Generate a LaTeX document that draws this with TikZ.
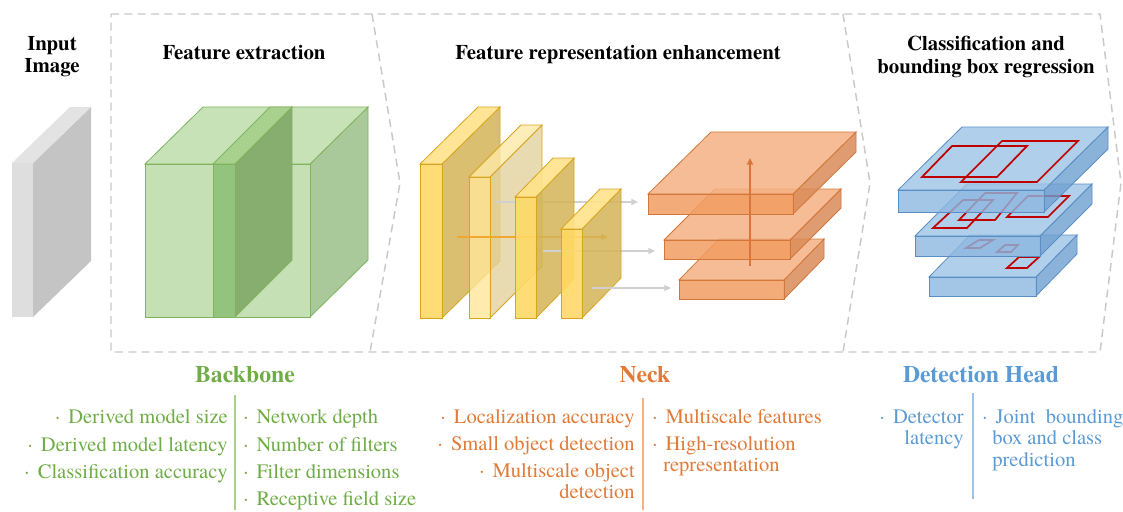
\documentclass[tikz,border=0pt]{standalone}
\usepackage{fontspec}
\setmainfont{texgyretermes-regular.otf}[BoldFont=texgyretermes-bold.otf, ItalicFont=texgyretermes-italic.otf, BoldItalicFont=texgyretermes-bolditalic.otf]
\usetikzlibrary{arrows.meta}
\definecolor{grn}{HTML}{70AD47}
\definecolor{grnl}{HTML}{A9D18E}
\definecolor{org}{HTML}{E07B39}
\definecolor{orgl}{HTML}{F4B183}
\definecolor{blu}{HTML}{5B9BD5}
\definecolor{blul}{HTML}{9DC3E6}
\definecolor{dashc}{HTML}{C9C9C9}
\definecolor{gcF}{HTML}{C5E0B4}
\definecolor{gcT}{HTML}{C8E2B8}
\definecolor{gcS}{HTML}{A9C99A}
\definecolor{gE}{HTML}{7FB35E}
\definecolor{gsF}{HTML}{93C47D}
\definecolor{gsT}{HTML}{A9D18E}
\definecolor{gsS}{HTML}{87AE6E}
\definecolor{yF}{HTML}{FFD966}
\definecolor{yT}{HTML}{FFE38A}
\definecolor{yS}{HTML}{D3B456}
\definecolor{yE}{HTML}{D9A520}
\definecolor{ylF}{HTML}{FFE699}
\definecolor{ylT}{HTML}{FDE9A8}
\definecolor{ylS}{HTML}{E3D39E}
\definecolor{oF}{HTML}{F29D62}
\definecolor{oT}{HTML}{F4B183}
\definecolor{oS}{HTML}{D98B57}
\definecolor{oE}{HTML}{D2773A}
\definecolor{bF}{HTML}{8DB8E2}
\definecolor{bT}{HTML}{9DC3E6}
\definecolor{bS}{HTML}{6E9FD0}
\definecolor{bE}{HTML}{5A8EC4}
\definecolor{redc}{HTML}{C00000}
\definecolor{arrg}{HTML}{D0D0D0}
\definecolor{arry}{HTML}{F0A830}
\definecolor{arro}{HTML}{D9773A}
\newcommand\cuboid[7]{%
  \path[#7side] (#3,#2) -- ({#3+#5},{#2-#6}) -- ({#3+#5},{#4-#6}) -- (#3,#4) -- cycle;
  \path[#7top] (#1,#2) -- (#3,#2) -- ({#3+#5},{#2-#6}) -- ({#1+#5},{#2-#6}) -- cycle;
  \path[#7front] (#1,#2) rectangle (#3,#4);
}
\tikzset{
  gyfront/.style={fill=black!13},
  gytop/.style={fill=black!11},
  gyside/.style={fill=black!23},
  gcfront/.style={fill=gcF, draw=gE, line width=0.6pt},
  gctop/.style={fill=gcT, draw=gE, line width=0.6pt},
  gcside/.style={fill=gcS, draw=gE, line width=0.6pt},
  gsfront/.style={fill=gsF, draw=gE, line width=0.6pt},
  gstop/.style={fill=gsT, draw=gE, line width=0.6pt},
  gsside/.style={fill=gsS, draw=gE, line width=0.6pt},
  yfront/.style={fill=yF, fill opacity=0.9, draw=yE, line width=0.6pt},
  ytop/.style={fill=yT, fill opacity=0.9, draw=yE, line width=0.6pt},
  yside/.style={fill=yS, fill opacity=0.85, draw=yE, line width=0.6pt},
  ylfront/.style={fill=ylF, fill opacity=0.8, draw=yE, line width=0.6pt},
  yltop/.style={fill=ylT, fill opacity=0.8, draw=yE, line width=0.6pt},
  ylside/.style={fill=ylS, fill opacity=0.8, draw=yE, line width=0.6pt},
  ofront/.style={fill=oF, fill opacity=0.85, draw=oE, line width=0.6pt},
  otop/.style={fill=oT, fill opacity=0.85, draw=oE, line width=0.6pt},
  oside/.style={fill=oS, fill opacity=0.85, draw=oE, line width=0.6pt},
  bfront/.style={fill=bF, fill opacity=0.8, draw=bE, line width=0.6pt},
  btop/.style={fill=bT, fill opacity=0.8, draw=bE, line width=0.6pt},
  bside/.style={fill=bS, fill opacity=0.8, draw=bE, line width=0.6pt},
  redbox/.style={draw=redc, line width=1.3pt, line join=miter},
  grayarr/.style={draw=arrg, line width=1.5pt, -{Triangle[length=5pt,width=4.5pt]}},
  yarr/.style={draw=arry, line width=1.5pt, -{Triangle[length=5pt,width=4.5pt]}},
  oarr/.style={draw=arro, line width=1.2pt, -{Triangle[length=5pt,width=4.5pt]}},
  dashline/.style={draw=dashc, line width=1.1pt, dash pattern=on 6pt off 4pt},
  ttl/.style={font=\fontsize{15.6}{18}\selectfont\bfseries, inner sep=0pt, anchor=base},
  hd/.style={font=\fontsize{17.8}{20}\selectfont\bfseries, inner sep=0pt, anchor=base},
  li/.style={font=\fontsize{15.4}{18}\selectfont, inner sep=0pt},
  lr/.style={li, anchor=base east},
  ll/.style={li, anchor=base west},
}
\newcommand\bul{·\hspace{0.4em}}
\begin{document}
\begin{tikzpicture}[x=0.75pt,y=-0.75pt]
\useasboundingbox (0,0) rectangle (1123,511);
\fill[white] (0,0) rectangle (1123,511);
% dashed outline
\path[dashline] (111,14) -- (1100,14) -- (1121,183) -- (1100,352) -- (111,352) -- cycle;
\path[dashline] (372,14) -- (400,183) -- (370,352);
\path[dashline] (843,14) -- (870,183) -- (843,352);
% titles
\node[ttl] (inp1) at (52,50) {Input};
\node[ttl] (inp2) at (52,72) {Image};
\node[ttl] (fe) at (244,59) {Feature extraction};
\node[ttl] (fre) at (618,59) {Feature representation enhancement};
\node[ttl] (cl1) at (986,50) {Classification and};
\node[ttl] (cl2) at (986,73) {bounding box regression};
% input image
\cuboid{12}{163}{33}{317}{58}{56}{gy}
% backbone cube
\cuboid{145}{164}{310}{317}{58}{57}{gc}
\cuboid{213}{164}{235}{317}{57}{57}{gs}
% neck slabs
\cuboid{420}{164}{442}{318}{58}{57}{y}
\cuboid{469}{177}{490}{318}{52}{52}{yl}
\coordinate (ya) at (457,237);
\coordinate (yb) at (608,237);
\draw[yarr] (ya) -- (yb);
\coordinate (g1a) at (495,202);
\coordinate (g1b) at (638,202);
\draw[grayarr] (g1a) -- (g1b);
\cuboid{515}{197}{536}{318}{38}{39}{y}
\coordinate (g2a) at (543,251);
\coordinate (g2b) at (655,251);
\draw[grayarr] (g2a) -- (g2b);
\cuboid{561}{229}{582}{318}{39}{40}{y}
\coordinate (g3a) at (592,288);
\coordinate (g3b) at (671,288);
\draw[grayarr] (g3a) -- (g3b);
% neck plates
\cuboid{679}{280}{784}{299}{40}{41}{o}
\cuboid{664}{240}{790}{259}{51}{51}{o}
\cuboid{648}{194}{793}{214}{63}{62}{o}
\coordinate (va) at (750,266);
\coordinate (vb) at (750,158);
\draw[oarr] (va) -- (vb);
% head plates
\cuboid{929}{277}{1036}{296}{41}{42}{b}
\draw[redbox] (966,248) -- (980,248) -- (993,240) -- (979,240) -- cycle;
\draw[redbox] (997,252) -- (1011,252) -- (1018,245) -- (1005,245) -- cycle;
\draw[redbox] (1007,268) -- (1027,268) -- (1039,257) -- (1019,257) -- cycle;
\cuboid{915}{236}{1040}{256}{52}{52}{b}
\draw[redbox] (933,228) -- (967,228) -- (993,200) -- (963,200) -- cycle;
\draw[redbox] (959,220) -- (995,220) -- (1017,193) -- (985,193) -- cycle;
\draw[redbox] (1007,217) -- (1048,217) -- (1069,196) -- (1028,196) -- cycle;
\cuboid{898}{190}{1044}{212}{64}{63}{b}
\draw[redbox] (922,177) -- (997,177) -- (1027,146) -- (952,146) -- cycle;
\draw[redbox] (961,182) -- (1037,182) -- (1078,141) -- (1002,141) -- cycle;
% Backbone text
\node[hd, text=grn] (bbh) at (245,382) {Backbone};
\draw[grnl, line width=0.8pt] (235,395) -- (235,510);
\node[lr, text=grn] (bb1) at (228,423) {\bul Derived model size};
\node[lr, text=grn] (bb2) at (228,451) {\bul Derived model latency};
\node[lr, text=grn] (bb3) at (228,478) {\bul Classification accuracy};
\node[ll, text=grn] (bb4) at (243,423) {\bul Network depth};
\node[ll, text=grn] (bb5) at (243,451) {\bul Number of filters};
\node[ll, text=grn] (bb6) at (243,478) {\bul Filter dimensions};
\node[ll, text=grn] (bb7) at (243,505) {\bul Receptive field size};
% Neck text
\node[hd, text=org] (nkh) at (645,382) {Neck};
\draw[orgl, line width=0.8pt] (643,398) -- (643,510);
\node[lr, text=org] (nk1) at (635,423) {\bul Localization accuracy};
\node[lr, text=org] (nk2) at (635,450) {\bul Small object detection};
\node[lr, text=org] (nk3) at (635,477) {\bul Multiscale object};
\node[lr, text=org] (nk3b) at (635,498) {detection};
\node[ll, text=org] (nk4) at (652,423) {\bul Multiscale features};
\node[ll, text=org] (nk5) at (652,450) {\bul High-resolution};
\node[ll, text=org] (nk5b) at (663,471) {representation};
% Head text
\node[hd, text=blu] (dhh) at (981,382) {Detection Head};
\draw[blul, line width=0.8pt] (973,393) -- (973,499);
\node[lr, text=blu] (dh1) at (964,423) {\bul Detector};
\node[lr, text=blu] (dh1b) at (964,444) {latency};
\node[ll, text=blu] (dh2) at (982,423) {\bul Joint\ \ bounding};
\node[ll, text=blu] (dh2b) at (992,444) {box and class};
\node[ll, text=blu] (dh2c) at (992,466) {prediction};
\end{tikzpicture}
\end{document}
